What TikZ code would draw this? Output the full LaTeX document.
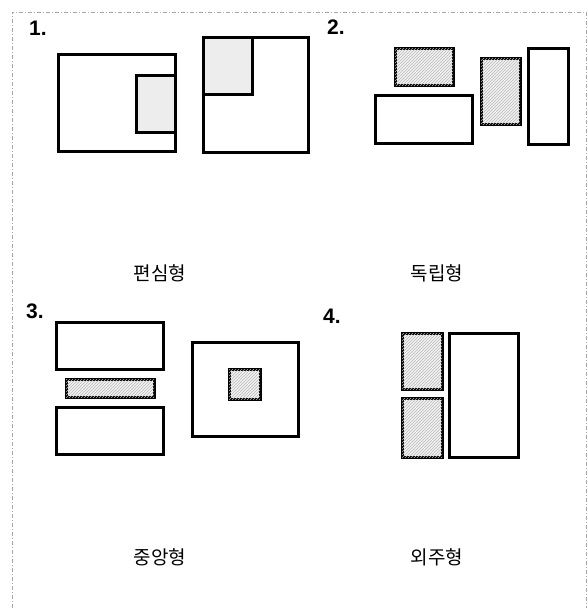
\documentclass[tikz,border=0pt]{standalone}
\usepackage{fontspec}
\setmainfont{Liberation Sans}
\newfontfamily\kr{Noto Sans CJK KR}
\usetikzlibrary{patterns}
\begin{document}
\begin{tikzpicture}[x=1pt,y=-1pt,
  room/.style={draw=black,line width=3pt,fill=white},
  core/.style={draw=black,line width=3pt,fill=gray!10,postaction={pattern=north east lines,pattern color=gray!55}},
  dotcore/.style={draw=black,line width=3pt,fill=gray!14},
  num/.style={font=\fontsize{21}{23}\selectfont\bfseries,inner sep=0pt},
  lab/.style={font=\kr\fontsize{19}{21}\selectfont,inner sep=0pt},
  frame/.style={draw=gray!70,line width=0.6pt,dash pattern=on 4pt off 2pt on 1pt off 2pt}]
\useasboundingbox (0,0) rectangle (588,608);
\draw[frame] (12,608) -- (12,12) -- (586,12) -- (586,608);
% panel 1
\node[num] (n1) at (38,28) {1.};
\draw[room] (58,54) rectangle (175,151);
\draw[dotcore] (136,75) rectangle (175,132);
\draw[room] (203,37) rectangle (308,152);
\draw[dotcore] (203,37) rectangle (252,94);
\node[lab] (l1) at (160,273) {편심형};
% panel 2
\node[num] (n2) at (336,27) {2.};
\draw[core] (395,48) rectangle (453,85);
\draw[room] (375,95) rectangle (472,143);
\draw[core] (481,58) rectangle (520,124);
\draw[room] (528,48) rectangle (568,144);
\node[lab] (l2) at (437,273) {독립형};
% panel 3
\node[num] (n3) at (35,311) {3.};
\draw[room] (56,322) rectangle (163,369);
\draw[core] (66,379) rectangle (154,397);
\draw[room] (56,407) rectangle (163,454);
\draw[room] (192,342) rectangle (298,436);
\draw[core] (229,369) rectangle (260,399);
\node[lab] (l3) at (160,557) {중앙형};
% panel 4
\node[num] (n4) at (332,316) {4.};
\draw[core] (402,333) rectangle (442,389);
\draw[core] (402,398) rectangle (442,457);
\draw[room] (449,333) rectangle (518,457);
\node[lab] (l4) at (437,557) {외주형};
\end{tikzpicture}
\end{document}
